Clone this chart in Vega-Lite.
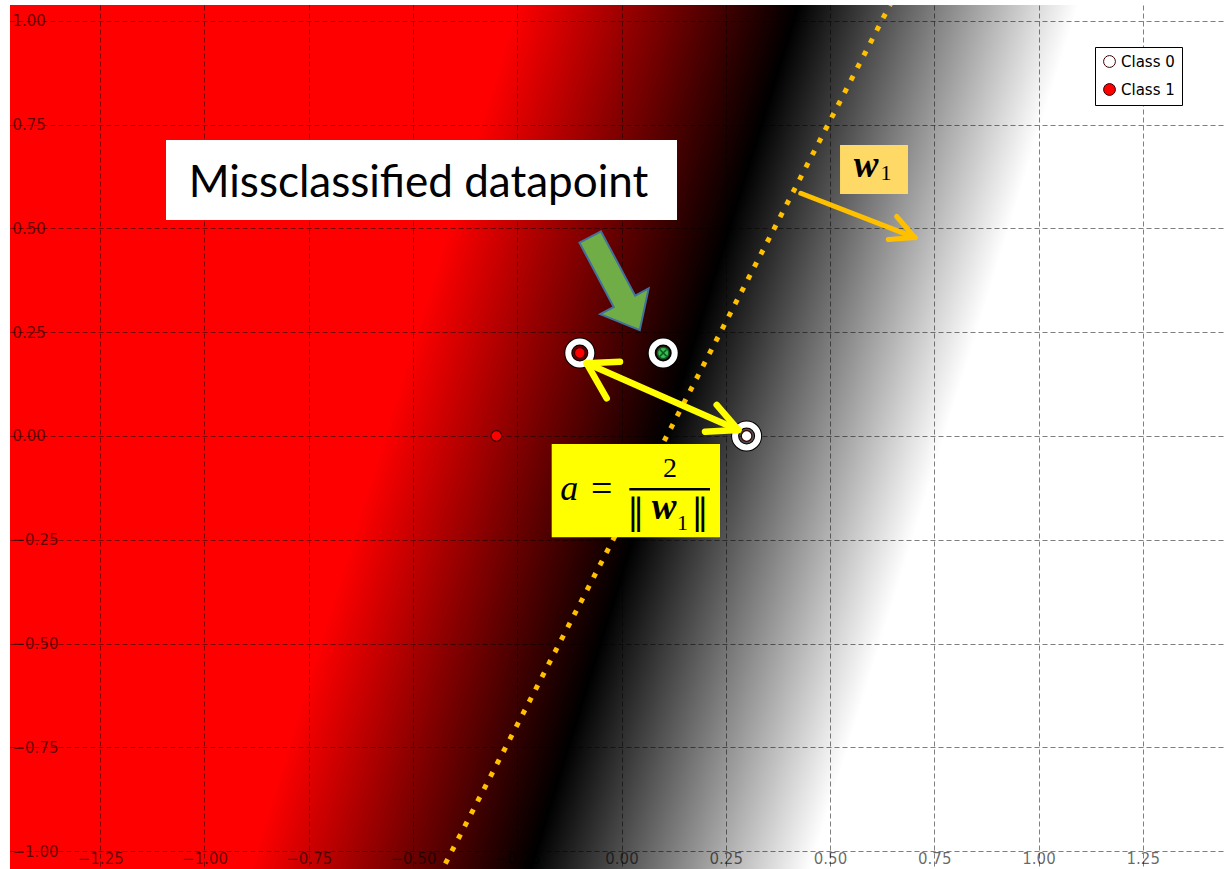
{
  "$schema": "https://vega.github.io/schema/vega-lite/v6.json",
  "width": 1214,
  "height": 864,
  "autosize": {"type": "none"},
  "padding": {"left": 10, "top": 5, "right": 0, "bottom": 0},
  "background": "#ffffff",
  "config": {
    "view": {
      "stroke": null,
      "fill": {
        "gradient": "linear",
        "x1": 0.3068, "y1": 0.5, "x2": 0.7482, "y2": 0.5974,
        "stops": [
          {"offset": 0, "color": "#ff0000"},
          {"offset": 0.502, "color": "#000000"},
          {"offset": 1, "color": "#ffffff"}
        ]
      }
    },
    "axis": {
      "grid": true,
      "gridColor": "#000000",
      "gridOpacity": 0.5,
      "gridDash": [5, 3],
      "gridWidth": 1,
      "domain": false,
      "ticks": false,
      "tickSize": 0,
      "labelFont": "DejaVu Sans",
      "labelFontSize": 15,
      "labelColor": "#000000",
      "labelOpacity": 0.6,
      "labelOverlap": false,
      "labelFlush": false,
      "title": null
    },
    "legend": {
      "orient": "top-right",
      "offset": 42,
      "padding": 7,
      "strokeColor": "#000000",
      "fillColor": "#ffffff",
      "rowPadding": 11,
      "symbolSize": 140,
      "symbolStrokeWidth": 1,
      "symbolType": "circle",
      "labelFont": "DejaVu Sans",
      "labelFontSize": 15,
      "labelColor": "#000000",
      "labelOffset": 4,
      "title": null
    }
  },
  "encoding": {
    "x": {
      "field": "x", "type": "quantitative",
      "scale": {"domain": [-1.4664, 1.4448], "nice": false, "zero": false},
      "axis": {"orient": "bottom", "values": [-1.25, -1, -0.75, -0.5, -0.25, 0, 0.25, 0.5, 0.75, 1, 1.25], "format": ".2f", "labelPadding": -6, "labelBaseline": "alphabetic", "labelAlign": "center"}
    },
    "y": {
      "field": "y", "type": "quantitative",
      "scale": {"domain": [-1.043, 1.038], "nice": false, "zero": false},
      "axis": {"orient": "left", "values": [-1, -0.75, -0.5, -0.25, 0, 0.25, 0.5, 0.75, 1], "format": ".2f", "labelPadding": -2, "labelAlign": "left", "labelBaseline": "middle"}
    }
  },
  "layer": [
    {
      "data": {"values": [{"x": -0.4378, "y": -1.06}, {"x": 0.655, "y": 1.06}]},
      "mark": {"type": "line", "stroke": "#FFC000", "strokeWidth": 5, "strokeDash": [5, 9], "strokeCap": "butt", "clip": true}
    },
    {
      "data": {"name": "pts"},
      "transform": [{"filter": "datum.sv == 1"}],
      "mark": {"type": "point", "shape": "circle", "filled": false, "stroke": "#000000", "strokeWidth": 8, "size": 531, "opacity": 1}
    },
    {
      "data": {"name": "pts"},
      "transform": [{"filter": "datum.sv == 1"}],
      "mark": {"type": "point", "shape": "circle", "filled": false, "stroke": "#ffffff", "strokeWidth": 6, "size": 531, "opacity": 1}
    },
    {
      "data": {"name": "pts"},
      "transform": [{"filter": "datum.mis == 0"}],
      "mark": {"type": "point", "shape": "circle", "filled": true, "stroke": "#3a0000", "strokeWidth": 1.2, "size": 113, "opacity": 1},
      "encoding": {
        "fill": {"field": "cls", "type": "nominal", "scale": {"domain": ["Class 0", "Class 1"], "range": ["#ffffff", "#ff0000"]}}
      }
    },
    {
      "data": {"name": "pts"},
      "transform": [{"filter": "datum.mis == 1"}],
      "mark": {"type": "point", "shape": "circle", "filled": true, "fill": "#3dbb55", "stroke": "#0b5d1e", "strokeWidth": 1.5, "size": 130, "opacity": 1}
    },
    {
      "data": {"name": "pts"},
      "transform": [{"filter": "datum.mis == 1"}],
      "mark": {"type": "point", "shape": "M-0.6,-0.6L0.6,0.6M0.6,-0.6L-0.6,0.6", "filled": false, "stroke": "#0b5d1e", "strokeWidth": 1.5, "size": 130, "opacity": 1}
    },
    {
      "data": {"values": [{"x": -0.0156, "y": 0.367}]},
      "mark": {"type": "point", "shape": "M-0.23,-1L0.23,-1L0.23,0.38L0.52,0.38L0,1L-0.52,0.38L-0.23,0.38Z", "filled": true, "fill": "#70AD47", "stroke": "#41719C", "strokeWidth": 2, "size": 11151, "angle": -28, "opacity": 1}
    },
    {
      "data": {"values": [
        {"x": -0.0835, "y": 0.175, "x2": 0.28, "y2": 0.0145},
        {"x": -0.0835, "y": 0.175, "x2": -0.0036, "y2": 0.179},
        {"x": -0.0835, "y": 0.175, "x2": -0.0355, "y2": 0.0908},
        {"x": 0.28, "y": 0.0145, "x2": 0.2002, "y2": 0.0104},
        {"x": 0.28, "y": 0.0145, "x2": 0.2283, "y2": 0.0747}
      ]},
      "mark": {"type": "rule", "stroke": "#FFFF00", "strokeWidth": 6.5, "strokeCap": "round"},
      "encoding": {"x2": {"field": "x2"}, "y2": {"field": "y2"}}
    },
    {
      "data": {"values": [
        {"x": 0.4299, "y": 0.5845, "x2": 0.7039, "y2": 0.4779},
        {"x": 0.7039, "y": 0.4779, "x2": 0.6599, "y2": 0.5286},
        {"x": 0.7039, "y": 0.4779, "x2": 0.6398, "y2": 0.4731}
      ]},
      "mark": {"type": "rule", "stroke": "#FFC000", "strokeWidth": 5, "strokeCap": "round"},
      "encoding": {"x2": {"field": "x2"}, "y2": {"field": "y2"}}
    },
    {
      "data": {"values": [{"x": -1.0923, "x2": 0.1331, "y": 0.7129, "y2": 0.52}]},
      "mark": {"type": "rect", "fill": "#ffffff"},
      "encoding": {"x2": {"field": "x2"}, "y2": {"field": "y2"}}
    },
    {
      "data": {"values": [{"x": 0.524, "x2": 0.687, "y": 0.701, "y2": 0.583}]},
      "mark": {"type": "rect", "fill": "#FFD966"},
      "encoding": {"x2": {"field": "x2"}, "y2": {"field": "y2"}}
    },
    {
      "data": {"values": [{"x": -0.1674, "x2": 0.2362, "y": -0.0193, "y2": -0.244}]},
      "mark": {"type": "rect", "fill": "#FFFF00"},
      "encoding": {"x2": {"field": "x2"}, "y2": {"field": "y2"}}
    },
    {
      "data": {"values": [{"x": 0.0187, "x2": 0.2122, "y": -0.1284}]},
      "mark": {"type": "rule", "stroke": "#000000", "strokeWidth": 2.5},
      "encoding": {"x2": {"field": "x2"}}
    },
    {
      "data": {"values": [{"x": -0.4868, "y": 0.5756, "t": "Missclassified datapoint"}]},
      "mark": {"type": "text", "font": "Lato", "fontSize": 44, "color": "#000000", "align": "center", "baseline": "alphabetic"},
      "encoding": {"text": {"field": "t"}}
    },
    {
      "data": {"values": [{"x": -0.1254, "y": -0.154, "t": "a"}]},
      "mark": {"type": "text", "font": "Liberation Serif", "fontStyle": "italic", "fontSize": 36, "color": "#000000", "align": "center", "baseline": "alphabetic"},
      "encoding": {"text": {"field": "t"}}
    },
    {
      "data": {"values": [{"x": -0.0475, "y": -0.1566, "t": "="}]},
      "mark": {"type": "text", "font": "Liberation Serif", "fontSize": 38, "color": "#000000", "align": "center", "baseline": "alphabetic"},
      "encoding": {"text": {"field": "t"}}
    },
    {
      "data": {"values": [{"x": 0.1163, "y": -0.098, "t": "2"}]},
      "mark": {"type": "text", "font": "Liberation Serif", "fontSize": 28, "color": "#000000", "align": "center", "baseline": "alphabetic"},
      "encoding": {"text": {"field": "t"}}
    },
    {
      "data": {"values": [{"x": 0.1024, "y": -0.2007, "t": "w"}, {"x": 0.5863, "y": 0.6245, "t": "w"}]},
      "mark": {"type": "text", "font": "Liberation Serif", "fontStyle": "italic", "fontWeight": "bold", "fontSize": 37, "color": "#000000", "align": "center", "baseline": "alphabetic"},
      "encoding": {"text": {"field": "t"}}
    },
    {
      "data": {"values": [{"x": 0.1463, "y": -0.2264, "t": "1"}, {"x": 0.6343, "y": 0.6166, "t": "1"}]},
      "mark": {"type": "text", "font": "Liberation Serif", "fontSize": 22, "color": "#000000", "align": "center", "baseline": "alphabetic"},
      "encoding": {"text": {"field": "t"}}
    },
    {
      "data": {"values": [{"x": 0.0343, "y": -0.2112, "t": "‖"}, {"x": 0.1882, "y": -0.2112, "t": "‖"}]},
      "mark": {"type": "text", "font": "DejaVu Serif", "fontSize": 35, "color": "#000000", "align": "center", "baseline": "alphabetic"},
      "encoding": {"text": {"field": "t"}}
    }
  ],
  "datasets": {
    "pts": [
      {"x": -0.3, "y": 0, "cls": "Class 1", "sv": 0, "mis": 0},
      {"x": -0.1, "y": 0.2, "cls": "Class 1", "sv": 1, "mis": 0},
      {"x": 0.3, "y": 0, "cls": "Class 0", "sv": 1, "mis": 0},
      {"x": 0.1, "y": 0.2, "cls": "Class 0", "sv": 1, "mis": 1}
    ]
  }
}
